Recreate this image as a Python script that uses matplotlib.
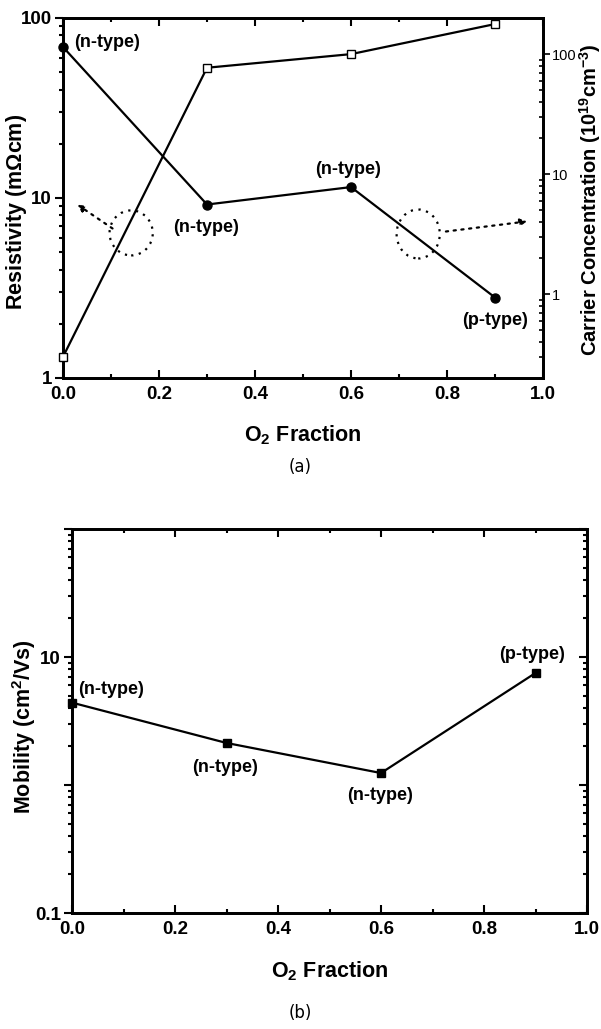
import matplotlib
matplotlib.use("Agg")
import matplotlib.pyplot as plt
from matplotlib.patches import Ellipse
from matplotlib.ticker import FixedLocator, LogLocator, NullFormatter, FixedFormatter, MultipleLocator

plt.rcParams['font.family'] = ['Liberation Sans', 'DejaVu Sans']
plt.rcParams['mathtext.fontset'] = 'custom'
plt.rcParams['mathtext.rm'] = 'Liberation Sans:bold'
plt.rcParams['mathtext.bf'] = 'Liberation Sans:bold'
plt.rcParams['mathtext.default'] = 'bf'

# ---- data ----
o2_fraction = [0.0, 0.3, 0.6, 0.9]
resistivity = [69, 9.2, 11.5, 2.8]          # mOhm cm (left axis)
carrier_conc = [0.3, 77, 100, 178]          # 1e19 cm^-3 (right axis)
mobility = [4.4, 2.13, 1.24, 7.5]           # cm^2/Vs
types_a = ['(n-type)', '(n-type)', '(n-type)', '(p-type)']
types_b = ['(n-type)', '(n-type)', '(n-type)', '(p-type)']
x_ticks = [0.0, 0.2, 0.4, 0.6, 0.8, 1.0]
x_ticklabels = ['0.0', '0.2', '0.4', '0.6', '0.8', '1.0']

W, H = 601, 1029
fig = plt.figure(figsize=(W/100, H/100), dpi=100)

TICK_FS = 13.5
TXT_FS = 13
LBL_FS = 15.5


def fx(px):
    return px / W


def fy(py):
    return 1 - py / H


def setup_x(a):
    a.xaxis.set_major_locator(FixedLocator(x_ticks))
    a.xaxis.set_minor_locator(MultipleLocator(0.1))
    a.set_xticklabels(x_ticklabels, fontsize=TICK_FS, fontweight='bold')
    a.tick_params(axis='x', which='both', direction='in', top=True, width=1.5, pad=6)
    a.tick_params(axis='x', which='major', length=6)
    a.tick_params(axis='x', which='minor', length=3)


# ================= (a) =================
L, R, T, B = 63, 543, 18, 378
ax = fig.add_axes([fx(L), fy(B), (R-L)/W, (B-T)/H])
ax.set_yscale('log')
ax.set_xlim(0, 1.0)
ax.set_ylim(1, 100)
ax.plot(o2_fraction, resistivity, color='black', lw=1.6, marker='o', ms=6.5, mfc='black', zorder=3, clip_on=False)

ax2 = ax.twinx()
ax2.set_yscale('log')
ax2.set_ylim(0.2, 200)
ax2.plot(o2_fraction, carrier_conc, color='black', lw=1.6, marker='s', ms=6, mfc='white', mew=1.0, zorder=3, clip_on=False)

for a in (ax, ax2):
    for s in a.spines.values():
        s.set_linewidth(2)

setup_x(ax)
ax.yaxis.set_major_locator(FixedLocator([1, 10, 100]))
ax.yaxis.set_major_formatter(FixedFormatter(['1', '10', '100']))
ax.yaxis.set_minor_locator(LogLocator(base=10, subs=range(2, 10)))
ax.yaxis.set_minor_formatter(NullFormatter())
ax.tick_params(axis='y', which='both', direction='out', width=1.5, labelsize=TICK_FS, pad=2)
ax.tick_params(axis='y', which='major', length=6)
ax.tick_params(axis='y', which='minor', length=3)
for lbl in ax.get_yticklabels():
    lbl.set_fontweight('bold')

ax2.yaxis.set_major_locator(FixedLocator([1, 10, 100]))
ax2.yaxis.set_major_formatter(FixedFormatter(['1', '10', '100']))
ax2.yaxis.set_minor_locator(LogLocator(base=10, subs=range(2, 10)))
ax2.yaxis.set_minor_formatter(NullFormatter())
ax2.tick_params(axis='y', which='major', direction='out', length=5, width=1.2, labelsize=10.5, pad=1.5)
ax2.tick_params(axis='y', which='minor', direction='in', length=3, width=1.2)

fig.text(fx((L+R)/2), fy(435), r'O$_2$ Fraction', fontsize=LBL_FS, fontweight='bold', ha='center', va='center')
fig.text(fx(17), fy(212), r'Resistivity (m$\Omega$cm)', fontsize=LBL_FS, fontweight='bold',
         ha='center', va='center', rotation=90)
fig.text(fx(590), fy(200), r'Carrier Concentration (10$^{19}$cm$^{-3}$)', fontsize=14.5,
         fontweight='bold', ha='center', va='center', rotation=90)

tb = dict(fontsize=TXT_FS, fontweight='bold', ha='center', va='center')
ax.text(0.092, 0.931, types_a[0], transform=ax.transAxes, **tb)
ax.text(0.298, 0.419, types_a[1], transform=ax.transAxes, **tb)
ax.text(0.594, 0.578, types_a[2], transform=ax.transAxes, **tb)
ax.text(0.9, 0.161, types_a[3], transform=ax.transAxes, **tb)

dot = (0, (1, 2.5))
ax.add_patch(Ellipse((0.142, 0.403), 0.09, 0.125, transform=ax.transAxes, fill=False,
                     ls=dot, lw=1.6, color='black'))
ax.add_patch(Ellipse((0.74, 0.4), 0.09, 0.136, transform=ax.transAxes, fill=False,
                     ls=dot, lw=1.6, color='black'))
ax.annotate('', xy=(0.025, 0.486), xytext=(0.108, 0.411), xycoords='axes fraction',
            arrowprops=dict(arrowstyle='-|>', ls=dot, lw=1.6, color='black', mutation_scale=10))
ax.annotate('', xy=(0.973, 0.436), xytext=(0.792, 0.406), xycoords='axes fraction',
            arrowprops=dict(arrowstyle='-|>', ls=dot, lw=1.6, color='black', mutation_scale=10))

fig.text(fx(300), fy(467), '(a)', ha='center', va='center', fontsize=12,
         family='DejaVu Sans', fontweight='normal')

# ================= (b) =================
L, R, T, B = 72, 587, 529, 913
bx = fig.add_axes([fx(L), fy(B), (R-L)/W, (B-T)/H])
bx.set_yscale('log')
bx.set_xlim(0, 1.0)
bx.set_ylim(0.1, 100)
bx.plot(o2_fraction, mobility, color='black', lw=1.6, marker='s', ms=6, mfc='black', zorder=3, clip_on=False)
for s in bx.spines.values():
    s.set_linewidth(2)

setup_x(bx)
bx.yaxis.set_major_locator(FixedLocator([0.1, 1, 10, 100]))
bx.yaxis.set_major_formatter(FixedFormatter(['0.1', '', '10', '']))
bx.yaxis.set_minor_locator(LogLocator(base=10, subs=range(2, 10)))
bx.yaxis.set_minor_formatter(NullFormatter())
bx.tick_params(axis='y', which='both', direction='out', width=1.5, labelsize=TICK_FS, pad=2)
bx.tick_params(axis='y', which='major', length=6)
bx.tick_params(axis='y', which='minor', length=3)
for lbl in bx.get_yticklabels():
    lbl.set_fontweight('bold')

bx2 = bx.twinx()
bx2.set_yscale('log')
bx2.set_ylim(bx.get_ylim())
bx2.yaxis.set_major_locator(FixedLocator([0.1, 1, 10, 100]))
bx2.yaxis.set_minor_locator(LogLocator(base=10, subs=range(2, 10)))
bx2.yaxis.set_major_formatter(NullFormatter())
bx2.yaxis.set_minor_formatter(NullFormatter())
bx2.tick_params(axis='y', which='both', direction='in', width=1.5)
bx2.tick_params(axis='y', which='major', length=6)
bx2.tick_params(axis='y', which='minor', length=3)
for s in bx2.spines.values():
    s.set_linewidth(2)

fig.text(fx((L+R)/2), fy(971), r'O$_2$ Fraction', fontsize=LBL_FS, fontweight='bold', ha='center', va='center')
fig.text(fx(24), fy(727), r'Mobility (cm$^2$/Vs)', fontsize=LBL_FS, fontweight='bold',
         ha='center', va='center', rotation=90)

bx.text(0.076, 0.583, types_b[0], transform=bx.transAxes, **tb)
bx.text(0.297, 0.38, types_b[1], transform=bx.transAxes, **tb)
bx.text(0.598, 0.307, types_b[2], transform=bx.transAxes, **tb)
bx.text(0.893, 0.672, types_b[3], transform=bx.transAxes, **tb)

fig.text(fx(300), fy(1013), '(b)', ha='center', va='center', fontsize=12,
         family='DejaVu Sans', fontweight='normal')

fig.savefig('out.png', dpi=100)
